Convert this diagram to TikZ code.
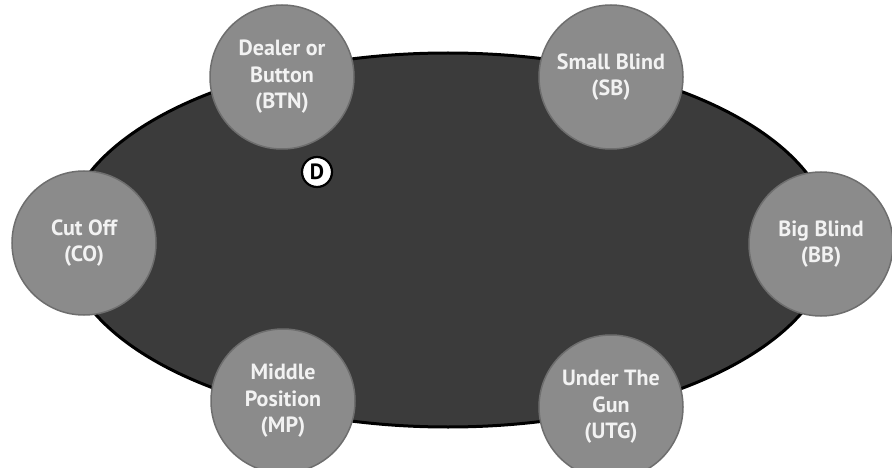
\documentclass[tikz,border=0pt]{standalone}
\usepackage{fontspec}
\setmainfont{PT Sans}
\usepackage{tikz}
\usetikzlibrary{shapes}
\usetikzlibrary{positioning}
\definecolor{mesa}{HTML}{3B3B3B}
\definecolor{ficha}{HTML}{8B8B8B}
\definecolor{borda}{HTML}{6E6E6E}
\definecolor{letra}{HTML}{F2F2F2}

\begin{document}
\begin{tikzpicture}[x=1pt, y=-1pt,
		assento/.style={circle, fill=ficha, draw=borda, line width=1.5pt, minimum size=144pt, inner sep=0pt, align=center, text=letra, font=\fontsize{22}{26.5}\selectfont\bfseries}]
				\useasboundingbox (0,0) rectangle (892,468);
				\node[ellipse, fill=mesa, draw=black, line width=3pt, minimum width=768pt, minimum height=374pt, inner sep=0pt] (Mesa) at (448,240) {};
				\node[assento] (BTN) at (282,77) {Dealer or\\Button\\(BTN)};
				\node[assento] (SB) at (611,77) {Small Blind\\(SB)};
				\node[assento] (CO) at (84,243) {Cut Off\\(CO)};
				\node[assento] (BB) at (821,244) {Big Blind\\(BB)};
				\node[assento] (MP) at (283,401) {Middle\\Position\\(MP)};
				\node[assento] (UTG) at (611,407) {Under The\\Gun\\(UTG)};
				\node[circle, fill=white, draw=black, line width=2.2pt, minimum size=30pt, inner sep=0pt, font=\fontsize{22}{22}\selectfont\bfseries] (Dealer) at (317,172) {D};
			\end{tikzpicture}
\end{document}
